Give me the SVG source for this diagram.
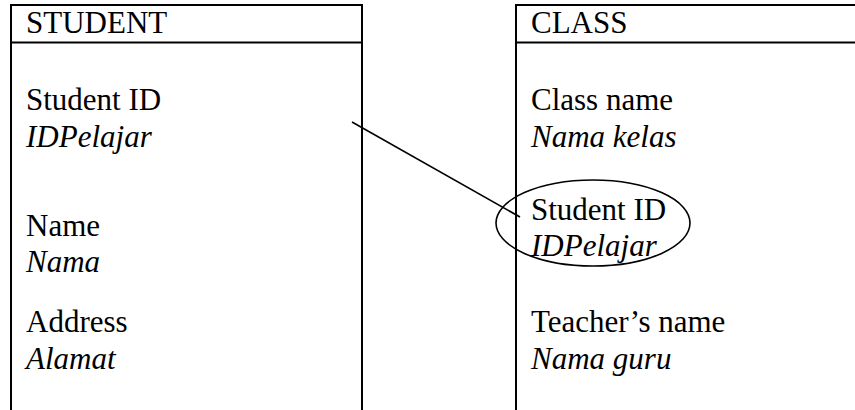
<svg xmlns="http://www.w3.org/2000/svg" width="855" height="410" viewBox="0 0 855 410">
<style>
.frame{fill:none;stroke:#000;stroke-width:2}
.t{font-family:"Liberation Serif","Times New Roman",serif;font-size:31px;fill:#000}
.i{font-style:italic}
.conn{fill:none;stroke:#000;stroke-width:1.6}
</style>
<rect width="855" height="410" fill="#fff"/>
<g id="student">
<path class="frame" d="M11,411 V5 H362 V411 M11,42.5 H362"/>
<text class="t" x="26" y="33">STUDENT</text>
<text class="t" x="26" y="110">Student ID</text>
<text class="t i" x="26" y="147">IDPelajar</text>
<text class="t" x="26" y="236">Name</text>
<text class="t i" x="26" y="272">Nama</text>
<text class="t" x="26" y="332">Address</text>
<text class="t i" x="26" y="369">Alamat</text>
</g>
<g id="class">
<path class="frame" d="M516,411 V5 H870 M516,42.5 H870"/>
<text class="t" x="531" y="33">CLASS</text>
<text class="t" x="531" y="110">Class name</text>
<text class="t i" x="531" y="147">Nama kelas</text>
<text class="t" x="531" y="220">Student ID</text>
<text class="t i" x="531" y="256">IDPelajar</text>
<text class="t" x="531" y="332">Teacher’s name</text>
<text class="t i" x="531" y="369">Nama guru</text>
</g>
<g id="connectors">
<line class="conn" x1="352" y1="122" x2="520" y2="217"/>
<ellipse class="conn" cx="593" cy="223" rx="97" ry="43"/>
</g>
</svg>
